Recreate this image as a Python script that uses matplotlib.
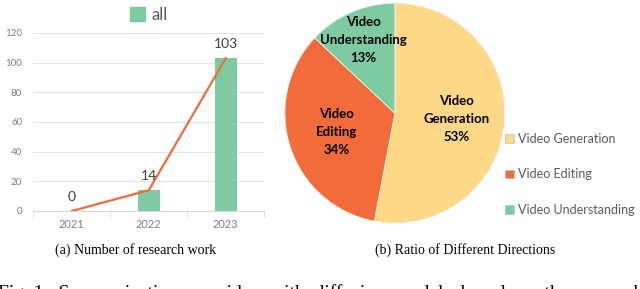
"""Fig. 1 recreation: yearly count of research work (bar + line) and direction shares (pie)."""

import numpy as np
import matplotlib
matplotlib.use("Agg")
import matplotlib.pyplot as plt
from matplotlib.patches import Patch

YEARS = ["2021", "2022", "2023"]
COUNTS = [0, 14, 103]

DIRECTIONS = ["Video Generation", "Video Editing", "Video Understanding"]
PIE_LABELS = ["Video\nGeneration", "Video\nEditing", "Video\nUnderstanding"]
SHARES = [53, 34, 13]

GREEN = "#7ECBA1"
ORANGE = "#F26B3A"
YELLOW = "#FDD886"
GRAY = "#7F7F7F"

SANS = ["Lato", "DejaVu Sans"]
SERIF = ["Liberation Serif", "DejaVu Serif"]

fig = plt.figure(figsize=(6.4, 2.89), dpi=100)

# ---- (a) bar + line
ax = fig.add_axes([0.052, 0.270, 0.361, 0.616])
x = np.arange(len(YEARS))
ax.bar(x, COUNTS, width=0.28, color=GREEN, zorder=2, label="all")
ax.plot(x, COUNTS, color=ORANGE, lw=1.6, zorder=3)
for xi, c in zip(x, COUNTS):
    ax.annotate(str(c), (xi, c), xytext=(0, 6), textcoords="offset points",
                ha="center", va="bottom", fontsize=10, color="#404040", family=SANS)
ax.set_xlim(-0.5, 2.5)
ax.set_ylim(0, 120)
ax.set_yticks(range(0, 121, 20))
ax.set_xticks(x)
ax.set_xticklabels(YEARS)
ax.set_xticks([-0.5, 0.5, 1.5, 2.5], minor=True)
ax.tick_params(axis="x", which="major", length=0, pad=6, labelsize=8, labelcolor=GRAY)
ax.tick_params(axis="x", which="minor", length=4, color="#D9D9D9")
ax.tick_params(axis="y", length=0, pad=8, labelsize=7, labelcolor=GRAY)
for lab in ax.get_xticklabels() + ax.get_yticklabels():
    lab.set_family(SANS)
ax.grid(axis="y", color="#E3E3E3", lw=0.8, zorder=0)
for s in ["top", "right", "left"]:
    ax.spines[s].set_visible(False)
ax.spines["bottom"].set_color("#D9D9D9")
ax.legend(handles=[Patch(color=GREEN, label="all")], loc="lower center",
          bbox_to_anchor=(0.5, 1.01), frameon=False, handlelength=0.9, handleheight=0.9,
          handletextpad=0.4, prop={"family": SANS, "size": 12}, labelcolor="#595959",
          borderaxespad=0.1)

# ---- (b) pie, centre at (395, 113) px, radius 110 px
pax = fig.add_axes([0.445, 0.228, 0.344, 0.761])
wedges, _ = pax.pie(SHARES, colors=[YELLOW, ORANGE, GREEN], startangle=90,
                    counterclock=False, wedgeprops={"edgecolor": "#F2F2F2", "linewidth": 0.6})
pax.set_xlim(-1, 1)
pax.set_ylim(-1, 1)
pax.set_aspect("equal")
label_r = [0.56, 0.56, 0.72]
for w, lab, pct, r in zip(wedges, PIE_LABELS, SHARES, label_r):
    ang = np.deg2rad((w.theta1 + w.theta2) / 2)
    pax.text(r * np.cos(ang), r * np.sin(ang), f"{lab}\n{pct}%", ha="center", va="center",
             fontsize=9.5, fontweight="bold", color="black", family=SANS, linespacing=1.6)

fig.legend(handles=[Patch(facecolor=c, edgecolor="#BFBFBF", lw=0.5, label=d)
                    for c, d in zip([YELLOW, ORANGE, GREEN], DIRECTIONS)],
           loc="center left", bbox_to_anchor=(0.772, 0.397), frameon=False,
           handlelength=0.7, handleheight=0.7, handletextpad=0.3, labelspacing=1.9,
           prop={"family": SANS, "size": 9}, labelcolor="#595959")

# ---- captions
fig.text(0.2125, 0.135, "(a) Number of research work", ha="center", va="center",
         fontsize=10, family=SERIF)
fig.text(0.727, 0.135, "(b) Ratio of Different Directions", ha="center", va="center",
         fontsize=10, family=SERIF)
fig.text(-0.003, -0.031,
         "Fig. 1:  Summarization  on  video  with  diffusion  models  based  on  the  research  work",
         ha="left", va="baseline", fontsize=14, family=SERIF)

fig.savefig("out.png", dpi=100)
